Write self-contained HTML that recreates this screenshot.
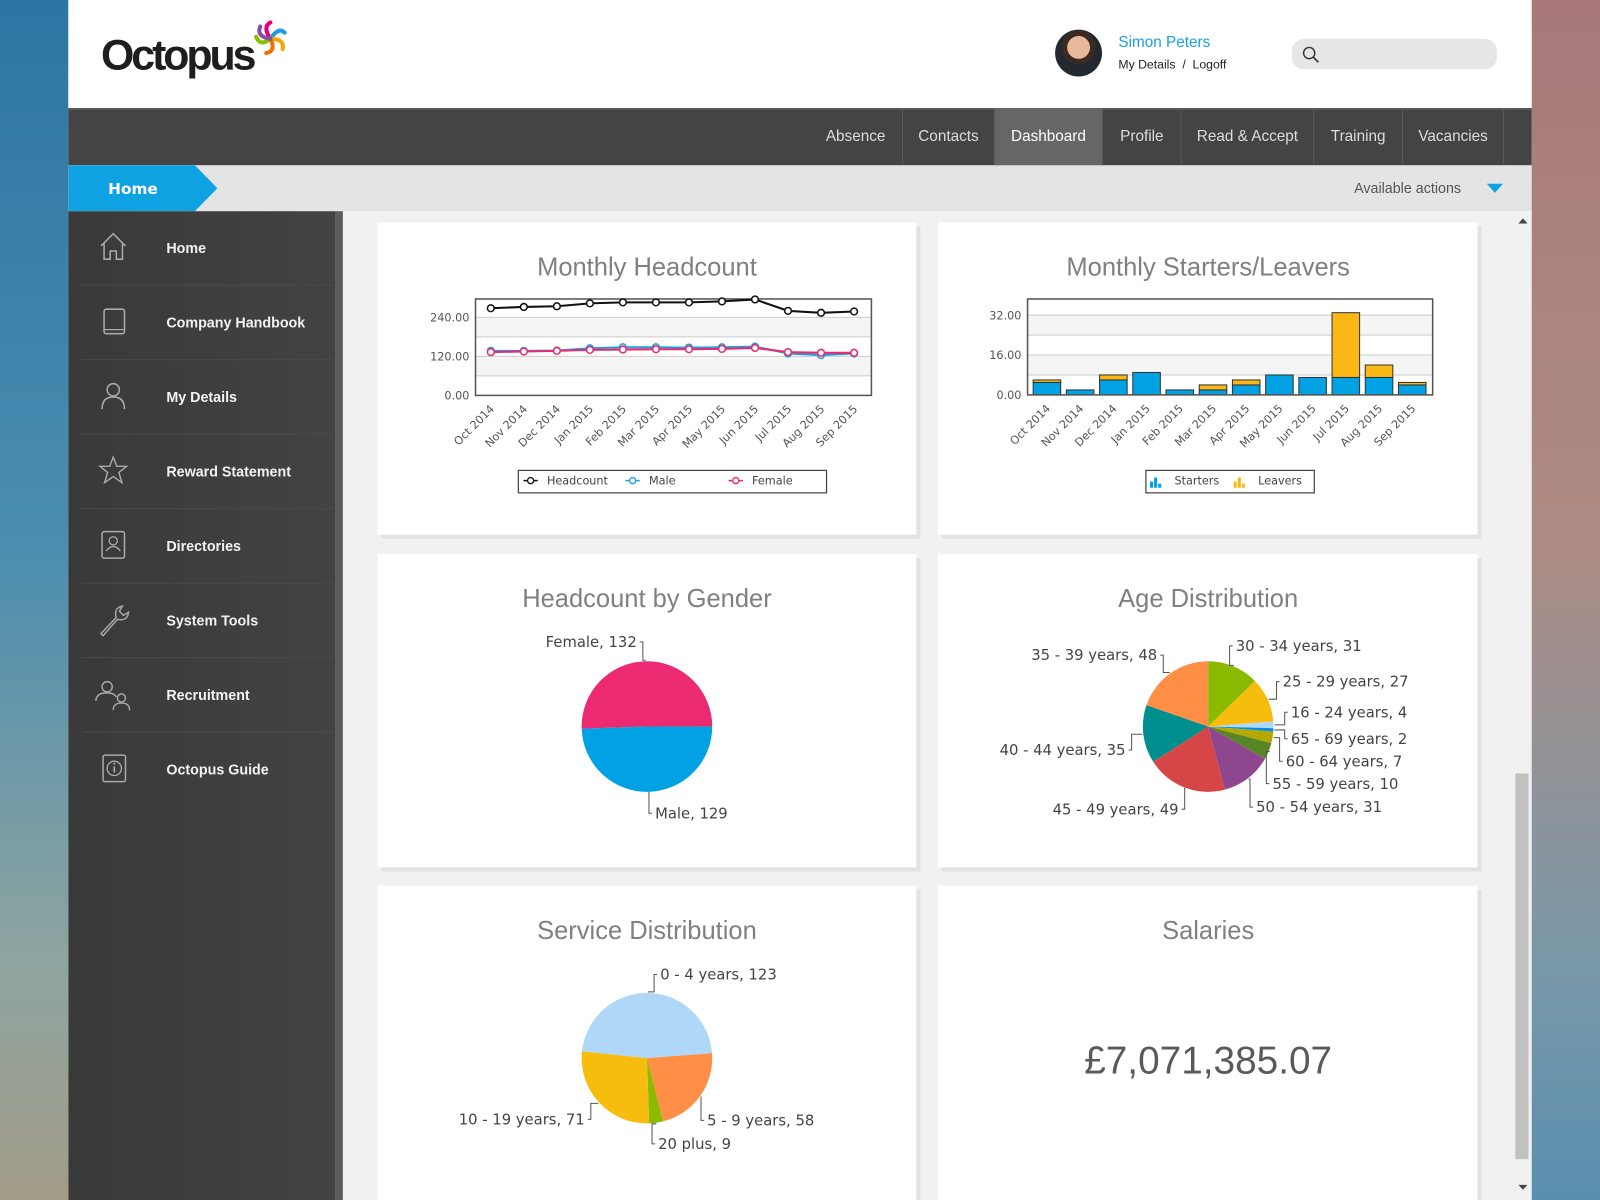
<!DOCTYPE html>
<html><head><meta charset="utf-8">
<style>
html,body{margin:0;padding:0;width:1600px;height:1200px;overflow:hidden;font-family:"Liberation Sans","DejaVu Sans",sans-serif;}
#wrap{position:absolute;left:0;top:0;width:1568px;height:1176px;transform:scale(1.020408);transform-origin:0 0;overflow:hidden;background:#f1f1f1;}
.abs{position:absolute;}
.nav{position:absolute;top:106px;height:56px;line-height:56px;color:#ddd;font-size:15px;text-align:center;border-left:1px solid #5a5a5a;}
.side-item{position:absolute;left:80px;width:249px;height:72px;border-bottom:1px solid #4b4b4b;}
.side-item span{position:absolute;left:83px;top:0;line-height:72px;color:#f2f2f2;font-weight:bold;font-family:"Liberation Sans",sans-serif;font-size:14px;}
.side-item svg{position:absolute;left:16px;top:20px;}
.card{position:absolute;background:#fff;box-shadow:4px 4px 0 #e2e2e2;}
</style></head><body>
<div id="wrap">
<div class="abs" style="left:0;top:0;width:67px;height:1176px;background:linear-gradient(180deg,#2c76a3,#4a8db0 45%,#8ea4a0 80%,#a39c88);"></div>
<div class="abs" style="left:1501px;top:0;width:67px;height:1176px;background:linear-gradient(180deg,#a8787a,#ae8c84 45%,#7a98a8 80%,#5a8fb0);"></div>

<div class="abs" style="left:67px;top:0;width:1434px;height:106px;background:#fff;">
  <div class="abs" style="left:32px;top:30px;font-size:42px;font-weight:bold;letter-spacing:-3px;color:#1e1e1e;">Octopus</div>
  <svg class="abs" style="left:180px;top:20px" width="36" height="36">
    <g fill="none" stroke-width="4" stroke-linecap="round">
      <path d="M18 18 q-8 -12 0 -16" stroke="#e5007e"/><path d="M18 18 q8 -12 14 -6" stroke="#1a9ee0"/>
      <path d="M18 18 q14 0 12 10" stroke="#f7a600"/><path d="M18 18 q6 12 -4 14" stroke="#ee7203"/>
      <path d="M18 18 q-10 8 -14 -2" stroke="#8bbd00"/><path d="M18 18 q-14 -2 -10 -12" stroke="#8a4fa0"/>
    </g></svg>
  <div class="abs" style="left:967px;top:29px;width:46px;height:46px;border-radius:50%;background:radial-gradient(circle at 50% 38%,#e8b89a 0 30%,#3a2a22 31% 45%,#23282f 46%);"></div>
  <div class="abs" style="left:1029px;top:33px;font-size:15px;color:#1a9ee0;">Simon Peters</div>
  <div class="abs" style="left:1029px;top:56px;font-size:12px;color:#222;"><span>My Details</span> &nbsp;/&nbsp; <span>Logoff</span></div>
  <div class="abs" style="left:1199px;top:38px;width:201px;height:30px;border-radius:12px;background:#e6e6e6;">
    <svg class="abs" style="left:10px;top:7px" width="18" height="18"><circle cx="7" cy="7" r="5.5" fill="none" stroke="#333" stroke-width="1.4"/><line x1="11" y1="11" x2="16" y2="16" stroke="#333" stroke-width="1.6"/></svg>
  </div>
</div>

<div class="abs" style="left:67px;top:106px;width:1434px;height:56px;background:#444;border-top:2px solid #555;box-sizing:border-box;"></div>
<div class="nav" style="left:794px;width:89px;border-left:none">Absence</div>
<div class="nav" style="left:884px;width:89px">Contacts</div>
<div class="nav" style="left:974px;width:105px;background:#666;color:#fff">Dashboard</div>
<div class="nav" style="left:1080px;width:76px">Profile</div>
<div class="nav" style="left:1157px;width:129px">Read &amp; Accept</div>
<div class="nav" style="left:1287px;width:86px">Training</div>
<div class="nav" style="left:1374px;width:98px;border-right:1px solid #5a5a5a">Vacancies</div>

<div class="abs" style="left:67px;top:162px;width:1434px;height:45px;background:#e4e4e4;"></div>
<svg class="abs" style="left:67px;top:162px" width="150" height="45"><polygon points="0,0 124,0 146,22.5 124,45 0,45" fill="#0ea2e3"/><text x="39" y="28" fill="#fff" font-size="15" font-weight="bold" font-family="DejaVu Sans,sans-serif">Home</text></svg>
<div class="abs" style="left:1327px;top:176px;font-size:14px;color:#555;">Available actions</div>
<svg class="abs" style="left:1457px;top:180px" width="16" height="10"><polygon points="0,0 16,0 8,9" fill="#0ea2e3"/></svg>

<div class="abs" style="left:67px;top:207px;width:262px;height:969px;background:linear-gradient(90deg,#393939,#434343);"></div>
<div class="abs" style="left:329px;top:207px;width:7px;height:969px;background:#5c5c5c;"></div>

<div class="side-item" style="top:207px"><svg width="30" height="30"><path d="M3 14 L15 2 L27 14 M6 11 V27 H12 V19 H18 V27 H24 V11" fill="none" stroke="#aaa" stroke-width="1.5"/></svg><span>Home</span></div>
<div class="side-item" style="top:280px"><svg width="30" height="30"><rect x="6" y="3" width="20" height="24" rx="2" fill="none" stroke="#aaa" stroke-width="1.5"/><line x1="6" y1="23" x2="26" y2="23" stroke="#aaa" stroke-width="1.2"/></svg><span>Company Handbook</span></div>
<div class="side-item" style="top:353px"><svg width="30" height="30"><circle cx="15" cy="9" r="6" fill="none" stroke="#aaa" stroke-width="1.5"/><path d="M4 28 Q4 16 15 16 Q26 16 26 28" fill="none" stroke="#aaa" stroke-width="1.5"/></svg><span>My Details</span></div>
<div class="side-item" style="top:426px"><svg width="30" height="30"><polygon points="15,2 18.5,11 28,11 20.5,17 23.5,27 15,21 6.5,27 9.5,17 2,11 11.5,11" fill="none" stroke="#aaa" stroke-width="1.4"/></svg><span>Reward Statement</span></div>
<div class="side-item" style="top:499px"><svg width="30" height="30"><rect x="4" y="2" width="22" height="26" rx="2" fill="none" stroke="#aaa" stroke-width="1.5"/><circle cx="15" cy="11" r="4" fill="none" stroke="#aaa" stroke-width="1.3"/><path d="M8 21 Q15 12 22 21" fill="none" stroke="#aaa" stroke-width="1.3"/></svg><span>Directories</span></div>
<div class="side-item" style="top:572px"><svg width="32" height="32"><path d="M3 29 L18 13 Q15 4 24 2 L21 7 L25 11 L30 8 Q29 17 19 15 L5 31 Z" fill="none" stroke="#aaa" stroke-width="1.4"/></svg><span>System Tools</span></div>
<div class="side-item" style="top:645px"><svg width="40" height="32" style="left:12px"><circle cx="13" cy="8" r="5" fill="none" stroke="#aaa" stroke-width="1.4"/><path d="M2 22 Q2 14 13 14 Q20 14 22 18" fill="none" stroke="#aaa" stroke-width="1.4"/><circle cx="27" cy="19" r="4" fill="none" stroke="#aaa" stroke-width="1.4"/><path d="M19 31 Q19 24 27 24 Q35 24 35 31" fill="none" stroke="#aaa" stroke-width="1.4"/></svg><span>Recruitment</span></div>
<div class="side-item" style="top:718px;border-bottom:none"><svg width="30" height="30"><rect x="5" y="2" width="22" height="26" rx="2" fill="none" stroke="#aaa" stroke-width="1.5"/><circle cx="16" cy="15" r="7" fill="none" stroke="#aaa" stroke-width="1.3"/><line x1="16" y1="13" x2="16" y2="19" stroke="#aaa" stroke-width="1.6"/><circle cx="16" cy="10.5" r="1" fill="#aaa"/></svg><span>Octopus Guide</span></div>

<div class="card" style="left:370px;top:218px;width:528px;height:306px"></div>
<div class="card" style="left:919px;top:218px;width:529px;height:306px"></div>
<div class="card" style="left:370px;top:543px;width:528px;height:307px"></div>
<div class="card" style="left:919px;top:543px;width:529px;height:307px"></div>
<div class="card" style="left:370px;top:868px;width:528px;height:320px"></div>
<div class="card" style="left:919px;top:868px;width:529px;height:320px"></div>

<div class="abs" style="left:1484px;top:207px;width:17px;height:969px;background:#f1f1f1;">
  <div class="abs" style="left:1px;top:551px;width:13px;height:378px;background:#c1c1c1;"></div>
  <svg class="abs" style="left:4px;top:7px" width="9" height="6"><polygon points="0,5 9,5 4.5,0" fill="#444"/></svg>
  <svg class="abs" style="left:4px;top:954px" width="9" height="6"><polygon points="0,0 9,0 4.5,5" fill="#444"/></svg>
</div>

<svg id="charts" class="abs" style="left:0;top:0" width="1568" height="1176" font-family="DejaVu Sans,Verdana,sans-serif"></svg>
</div>

<script>
const months = ["Oct 2014","Nov 2014","Dec 2014","Jan 2015","Feb 2015","Mar 2015","Apr 2015","May 2015","Jun 2015","Jul 2015","Aug 2015","Sep 2015"];
const headcount = [268,272,274,283,286,286,286,289,295,260,254,258];
const male = [137,137,138,145,148,148,147,148,150,129,124,129];
const female = [133,135,137,140,141,142,142,143,146,133,131,131];
const lineTicks = [0,120,240];
const starters = [5,2,6,9,2,2,4,8,7,7,7,4];
const leavers = [1,0,2,0,0,2,2,0,0,26,5,1];
const barTicks = [0,16,32];
const genderLabels = ["Female","Male"];
const genderValues = [132,129];
const ageLabels = ["30 - 34 years","25 - 29 years","16 - 24 years","65 - 69 years","60 - 64 years","55 - 59 years","50 - 54 years","45 - 49 years","40 - 44 years","35 - 39 years"];
const ageValues = [31,27,4,2,7,10,31,49,35,48];
const serviceLabels = ["0 - 4 years","5 - 9 years","20 plus","10 - 19 years"];
const serviceValues = [123,58,9,71];
const salaryTotal = "£7,071,385.07";

const NS="http://www.w3.org/2000/svg";
const svg=document.getElementById('charts');
function mk(tag,attrs,parent){const e=document.createElementNS(NS,tag);for(const k in attrs)e.setAttribute(k,attrs[k]);(parent||svg).appendChild(e);return e;}
function txt(s,attrs,parent){const e=mk('text',attrs,parent);e.textContent=s;return e;}

[["Monthly Headcount",634,270],["Monthly Starters/Leavers",1184,270],["Headcount by Gender",634,595],["Age Distribution",1184,595],["Service Distribution",634,920],["Salaries",1184,920]].forEach(t=>{
  const e=txt(t[0],{x:t[1],y:t[2],'text-anchor':'middle','font-size':25,fill:'#808080','font-family':'Liberation Sans,sans-serif'});
  
  
});

// ---- line chart
const L={x0:466,x1:854,y0:387.5,y1:293,max:295,first:481,last:837};
const lx=i=>L.first+i*(L.last-L.first)/(months.length-1);
const ly=v=>L.y0-(v/240)*76.5;
const lg=mk('g',{});


mk('rect',{x:L.x0,y:ly(240),width:L.x1-L.x0,height:ly(180)-ly(240),fill:'#f5f5f5'},lg);
mk('rect',{x:L.x0,y:ly(120),width:L.x1-L.x0,height:ly(60)-ly(120),fill:'#f5f5f5'},lg);
[60,120,180,240].forEach(v=>mk('line',{x1:L.x0,x2:L.x1,y1:ly(v),y2:ly(v),stroke:'#ccc'},lg));
lineTicks.forEach(v=>{const t=txt(v.toFixed(2),{x:L.x0-6,y:ly(v)+4,'text-anchor':'end','font-size':11,fill:'#555'},lg);
  
  });
mk('rect',{x:L.x0,y:L.y1,width:L.x1-L.x0,height:L.y0-L.y1,fill:'none',stroke:'#555','stroke-width':1.5},lg);
months.forEach((m,i)=>{const t=txt(m,{x:lx(i)+4,y:L.y0+14,'text-anchor':'end','font-size':11,fill:'#555',transform:`rotate(-45 ${lx(i)+4} ${L.y0+14})`},lg);
  
  });
function series(vals,color,name){
  const pts=vals.map((v,i)=>lx(i)+','+ly(v)).join(' ');
  const p=mk('polyline',{points:pts,fill:'none',stroke:color,'stroke-width':2},lg);
  
  
  vals.forEach((v,i)=>{const c=mk('circle',{cx:lx(i),cy:ly(v),r:3.3,fill:'#fff',stroke:color,'stroke-width':1.5},lg);
    
    });
}
series(male,'#1ba1e2','male');series(female,'#ea2a6e','female');series(headcount,'#111','headcount');
const leg=mk('g',{},lg);


mk('rect',{x:508,y:461,width:302,height:22,fill:'#fff',stroke:'#444','stroke-width':1.2},leg);
[["Headcount",'#111',513],["Male",'#1ba1e2',613],["Female",'#ea2a6e',714]].forEach(d=>{
  mk('line',{x1:d[2],x2:d[2]+14,y1:471,y2:471,stroke:d[1],'stroke-width':1.5},leg);
  mk('circle',{cx:d[2]+7,cy:471,r:3,fill:'#fff',stroke:d[1],'stroke-width':1.3},leg);
  const t=txt(d[0],{x:d[2]+23,y:475,'font-size':11,fill:'#444'},leg);
  
  
});

// ---- bar chart
const B={x0:1007,x1:1404,y0:387,y1:293,max:38.5,first:1026,last:1384,bw:27};
const bx=i=>B.first+i*(B.last-B.first)/(months.length-1);
const by=v=>B.y0-(v/B.max)*(B.y0-B.y1);
const bg=mk('g',{});


[8,24].forEach(v=>mk('rect',{x:B.x0,y:by(v+8),width:B.x1-B.x0,height:by(v)-by(v+8),fill:'#f5f5f5'},bg));
[8,16,24,32].forEach(v=>mk('line',{x1:B.x0,x2:B.x1,y1:by(v),y2:by(v),stroke:'#ccc'},bg));
barTicks.forEach(v=>{const t=txt(v.toFixed(2),{x:B.x0-6,y:by(v)+4,'text-anchor':'end','font-size':11,fill:'#555'},bg);
  
  });
months.forEach((m,i)=>{
  const s=mk('rect',{x:bx(i)-B.bw/2,y:by(starters[i]),width:B.bw,height:B.y0-by(starters[i]),fill:'#00a2e3',stroke:'#333','stroke-width':1},bg);
  
  
  if(leavers[i]>0){const l=mk('rect',{x:bx(i)-B.bw/2,y:by(starters[i]+leavers[i]),width:B.bw,height:by(starters[i])-by(starters[i]+leavers[i]),fill:'#fbb714',stroke:'#333','stroke-width':1},bg);
  
  }
  const t=txt(m,{x:bx(i)+4,y:B.y0+14,'text-anchor':'end','font-size':11,fill:'#555',transform:`rotate(-45 ${bx(i)+4} ${B.y0+14})`},bg);
  
  
});
mk('rect',{x:B.x0,y:B.y1,width:B.x1-B.x0,height:B.y0-B.y1,fill:'none',stroke:'#555','stroke-width':1.5},bg);
const bl=mk('g',{},bg);


mk('rect',{x:1123,y:461,width:165,height:22,fill:'#fff',stroke:'#444','stroke-width':1.2},bl);
[["Starters",'#00a2e3',1127],["Leavers",'#fbb714',1209]].forEach(d=>{
  [[0,6],[4,10],[8,4]].forEach(b=>mk('rect',{x:d[2]+b[0],y:478-b[1],width:3,height:b[1],fill:d[1]},bl));
  const t=txt(d[0],{x:d[2]+24,y:475,'font-size':11,fill:'#444'},bl);
  
  
});

// ---- pies
function pie(labels,values,colors,cx,cy,r,start,labelPos,name){
  const g=mk('g',{});
  
  
  const tot=values.reduce((a,b)=>a+b,0);
  let a=start*Math.PI/180;
  const P=(ang,rr)=>[cx+rr*Math.sin(ang),cy-rr*Math.cos(ang)];
  values.forEach((v,i)=>{
    const da=v/tot*2*Math.PI, b=a+da;
    const p0=P(a,r),p1=P(b,r);
    const s=mk('path',{d:`M${cx},${cy} L${p0[0]},${p0[1]} A${r},${r} 0 ${da>Math.PI?1:0} 1 ${p1[0]},${p1[1]} Z`,fill:colors[i]},g);
    
    
    const m=P(a+da/2,r+1), lp=labelPos[i], right=lp[2]==='start';
    const ex=right?lp[0]-6:lp[0]+6;
    mk('polyline',{points:`${m[0]},${m[1]} ${ex},${m[1]} ${ex},${lp[1]-5} ${ex+(right?3:-3)},${lp[1]-5}`,fill:'none',stroke:'#555','stroke-width':1},g);
    const t=txt(labels[i]+', '+v,{x:lp[0],y:lp[1],'text-anchor':lp[2],'font-size':14.5,fill:'#444'},g);
    
    
    a=b;
  });
}
pie(genderLabels,genderValues,['#ec2a72','#00a2e3'],634,712,64,268,[[624,634,'end'],[642,802,'start']],'gender-pie');
pie(ageLabels,ageValues,['#8bba00','#f6bd0f','#afd8f8','#008ee4','#b5a800','#588526','#8e468e','#d64646','#008e8e','#ff8e46'],1184,712,64,0,
  [[1211,638,'start'],[1257,673,'start'],[1265,703,'start'],[1265,729,'start'],[1260,751,'start'],[1247,773,'start'],[1231,796,'start'],[1155,798,'end'],[1103,740,'end'],[1134,647,'end']],'age-pie');
pie(serviceLabels,serviceValues,['#afd8f8','#ff8e46','#8bba00','#f6bd0f'],634,1037,64,276,[[647,960,'start'],[693,1103,'start'],[645,1126,'start'],[573,1102,'end']],'service-pie');

const sal=txt(salaryTotal,{x:1184,y:1052,'text-anchor':'middle','font-size':38,fill:'#5a5a5a','font-family':'Liberation Sans,sans-serif'});


</script>
</body></html>
